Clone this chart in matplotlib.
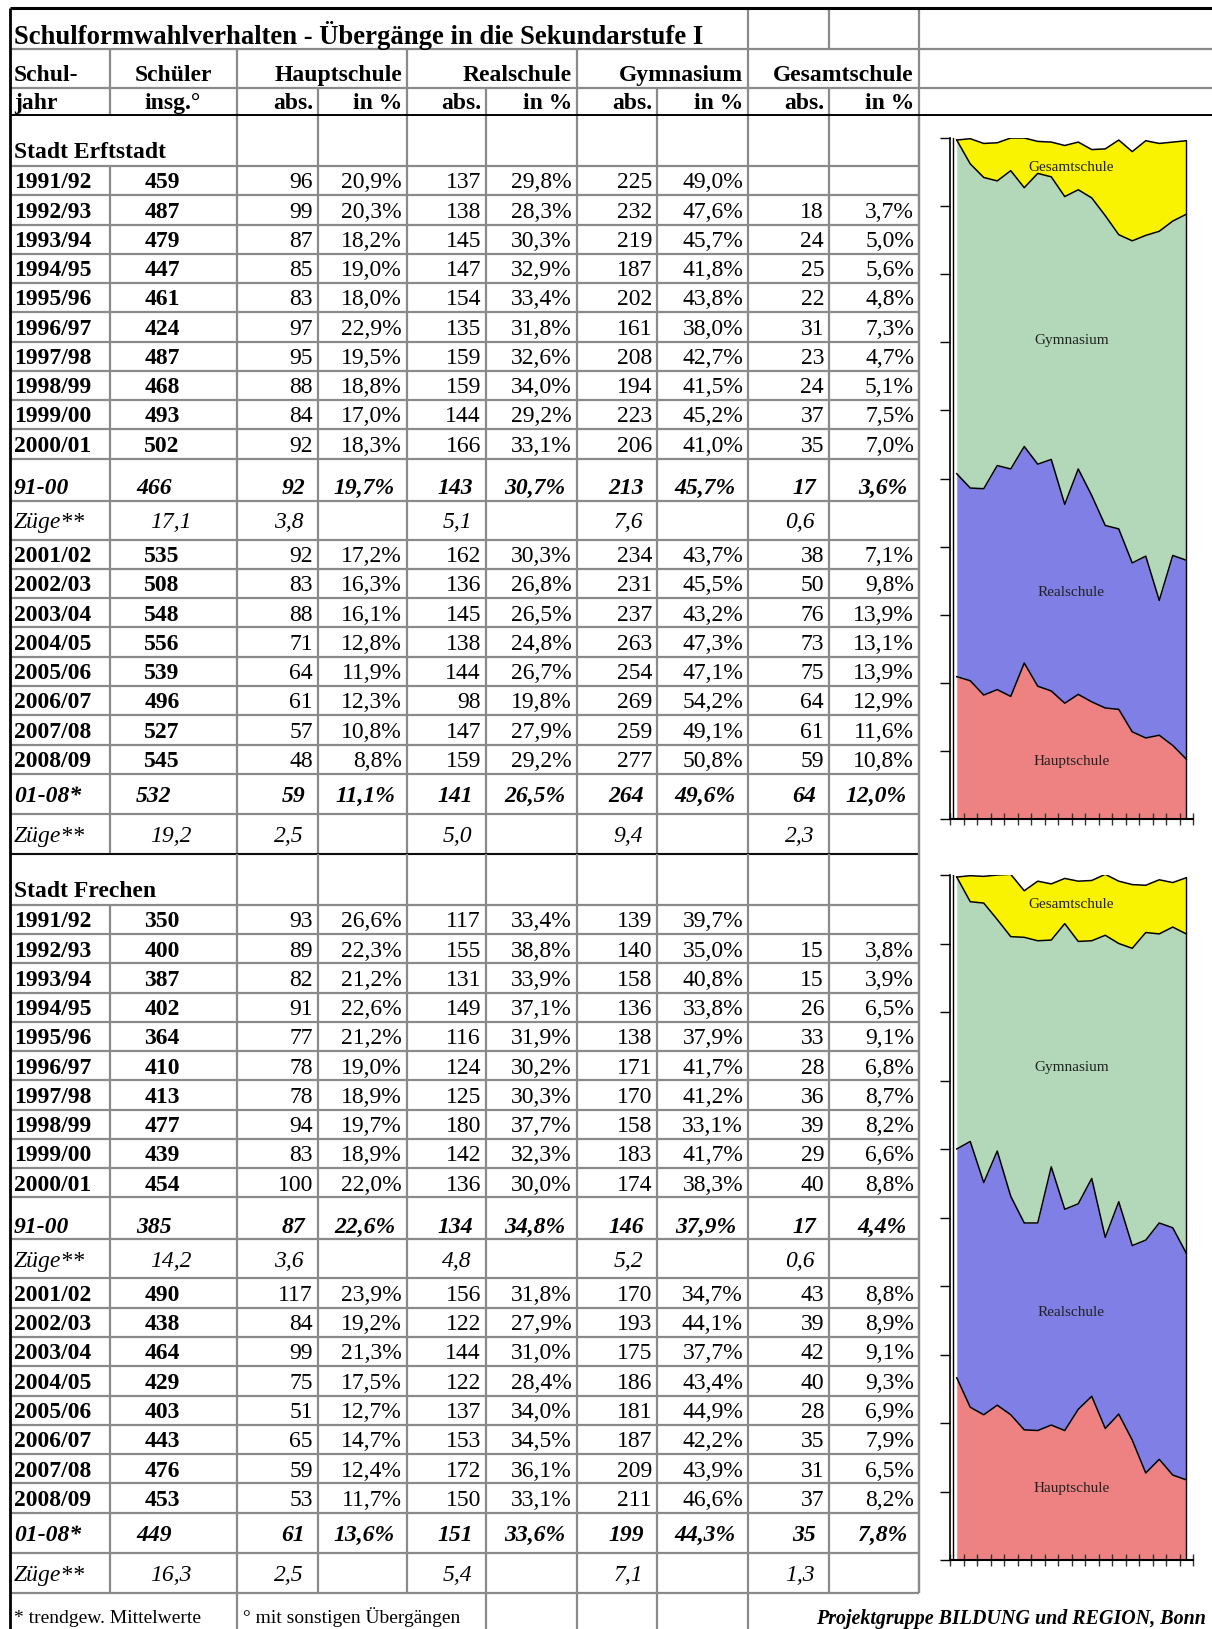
import numpy as np
import matplotlib.pyplot as plt

plt.rcParams['font.family'] = ['Liberation Serif', 'DejaVu Serif']

years_a = ["1991/92", "1992/93", "1993/94", "1994/95", "1995/96",
           "1996/97", "1997/98", "1998/99", "1999/00", "2000/01"]
years_b = ["2001/02", "2002/03", "2003/04", "2004/05",
           "2005/06", "2006/07", "2007/08", "2008/09"]

# Stadt Erftstadt
erf_schueler = [459, 487, 479, 447, 461, 424, 487, 468, 493, 502,
                535, 508, 548, 556, 539, 496, 527, 545]
erf_haupt_abs = [96, 99, 87, 85, 83, 97, 95, 88, 84, 92,
                 92, 83, 88, 71, 64, 61, 57, 48]
erf_haupt_pct = [20.9, 20.3, 18.2, 19.0, 18.0, 22.9, 19.5, 18.8, 17.0, 18.3,
                 17.2, 16.3, 16.1, 12.8, 11.9, 12.3, 10.8, 8.8]
erf_real_abs = [137, 138, 145, 147, 154, 135, 159, 159, 144, 166,
                162, 136, 145, 138, 144, 98, 147, 159]
erf_real_pct = [29.8, 28.3, 30.3, 32.9, 33.4, 31.8, 32.6, 34.0, 29.2, 33.1,
                30.3, 26.8, 26.5, 24.8, 26.7, 19.8, 27.9, 29.2]
erf_gym_abs = [225, 232, 219, 187, 202, 161, 208, 194, 223, 206,
               234, 231, 237, 263, 254, 269, 259, 277]
erf_gym_pct = [49.0, 47.6, 45.7, 41.8, 43.8, 38.0, 42.7, 41.5, 45.2, 41.0,
               43.7, 45.5, 43.2, 47.3, 47.1, 54.2, 49.1, 50.8]
erf_ges_abs = [None, 18, 24, 25, 22, 31, 23, 24, 37, 35,
               38, 50, 76, 73, 75, 64, 61, 59]
erf_ges_pct = [None, 3.7, 5.0, 5.6, 4.8, 7.3, 4.7, 5.1, 7.5, 7.0,
               7.1, 9.8, 13.9, 13.1, 13.9, 12.9, 11.6, 10.8]
erf_mean_a = [466, 92, 19.7, 143, 30.7, 213, 45.7, 17, 3.6]
erf_zuege_a = [17.1, 3.8, 5.1, 7.6, 0.6]
erf_mean_b = [532, 59, 11.1, 141, 26.5, 264, 49.6, 64, 12.0]
erf_zuege_b = [19.2, 2.5, 5.0, 9.4, 2.3]

# Stadt Frechen
fre_schueler = [350, 400, 387, 402, 364, 410, 413, 477, 439, 454,
                490, 438, 464, 429, 403, 443, 476, 453]
fre_haupt_abs = [93, 89, 82, 91, 77, 78, 78, 94, 83, 100,
                 117, 84, 99, 75, 51, 65, 59, 53]
fre_haupt_pct = [26.6, 22.3, 21.2, 22.6, 21.2, 19.0, 18.9, 19.7, 18.9, 22.0,
                 23.9, 19.2, 21.3, 17.5, 12.7, 14.7, 12.4, 11.7]
fre_real_abs = [117, 155, 131, 149, 116, 124, 125, 180, 142, 136,
                156, 122, 144, 122, 137, 153, 172, 150]
fre_real_pct = [33.4, 38.8, 33.9, 37.1, 31.9, 30.2, 30.3, 37.7, 32.3, 30.0,
                31.8, 27.9, 31.0, 28.4, 34.0, 34.5, 36.1, 33.1]
fre_gym_abs = [139, 140, 158, 136, 138, 171, 170, 158, 183, 174,
               170, 193, 175, 186, 181, 187, 209, 211]
fre_gym_pct = [39.7, 35.0, 40.8, 33.8, 37.9, 41.7, 41.2, 33.1, 41.7, 38.3,
               34.7, 44.1, 37.7, 43.4, 44.9, 42.2, 43.9, 46.6]
fre_ges_abs = [None, 15, 15, 26, 33, 28, 36, 39, 29, 40,
               43, 39, 42, 40, 28, 35, 31, 37]
fre_ges_pct = [None, 3.8, 3.9, 6.5, 9.1, 6.8, 8.7, 8.2, 6.6, 8.8,
               8.8, 8.9, 9.1, 9.3, 6.9, 7.9, 6.5, 8.2]
fre_mean_a = [385, 87, 22.6, 134, 34.8, 146, 37.9, 17, 4.4]
fre_zuege_a = [14.2, 3.6, 4.8, 5.2, 0.6]
fre_mean_b = [449, 61, 13.6, 151, 33.6, 199, 44.3, 35, 7.8]
fre_zuege_b = [16.3, 2.5, 5.4, 7.1, 1.3]

schools = ["Hauptschule", "Realschule", "Gymnasium", "Gesamtschule"]
colors = ["#EE8282", "#7F7FE6", "#B3D8B9", "#F9F200"]

W, H = 1212, 1629
fig = plt.figure(figsize=(W / 100, H / 100), dpi=100)
ax = fig.add_axes([0, 0, 1, 1])
ax.set_xlim(0, W)
ax.set_ylim(H, 0)
ax.axis('off')

GRAY = '#8a8a8a'
FS = 17
edges = [10, 110, 237, 318, 407, 486, 577, 657, 748, 829, 919]


def hline(y, x0, x1, color=GRAY, lw=1.6):
    ax.plot([x0, x1], [y, y], color=color, lw=lw, solid_capstyle='butt')


def vline(x, y0, y1, color=GRAY, lw=1.6):
    ax.plot([x, x], [y0, y1], color=color, lw=lw, solid_capstyle='butt')


def txt(x, yc, s, ha='left', size=FS, weight='normal', style='normal'):
    # yc = visual centre of digits/caps -> baseline below it
    ax.text(x, yc + 0.33 * size * 100 / 72, s, ha=ha, va='baseline',
            fontsize=size, fontweight=weight, fontstyle=style, color='black')


def pct(v):
    return f"{v:.1f}".replace('.', ',') + "%"


def dec(v):
    return f"{v:.1f}".replace('.', ',')


# ---- header ----
txt(14, 35, "Schulformwahlverhalten - Übergänge in die Sekundarstufe I", size=19.2, weight='bold')
txt(14, 73, "Schul-", weight='bold')
txt(173, 73, "Schüler", ha='center', weight='bold')
for s, e in zip(schools, [407, 577, 748, 919]):
    txt(e - 5, 73, s, ha='right', weight='bold')
txt(14, 101, "jahr", weight='bold')
txt(173, 101, "insg.°", ha='center', weight='bold')
for i in range(2, 10):
    txt(edges[i + 1] - 5, 101, "abs." if i % 2 == 0 else "in %", ha='right', weight='bold')

hline(49, 10, W)
hline(88, 10, W)
for x in [748, 829, 919]:
    vline(x, 8, 49)
for x in [110, 237, 407, 577, 748, 919]:
    vline(x, 49, 88)
for x in edges[1:]:
    vline(x, 88, 115)


def data_row(y0, h, year, vals, style, pos=0.5):
    yc = y0 + h / 2
    if style == 'data':
        txt(14, yc, year, weight='bold')
        txt(162, yc, str(vals[0]), ha='center', weight='bold')
        for k in range(4):
            a, p = vals[1 + 2 * k], vals[2 + 2 * k]
            if a is not None:
                txt(edges[2 + 2 * k + 1] - 5, yc, str(a), ha='right')
                txt(edges[2 + 2 * k + 2] - 5, yc, pct(p), ha='right')
    elif style == 'mean':
        yc = y0 + pos * h
        txt(14, yc, year, weight='bold', style='italic')
        txt(154, yc, str(vals[0]), ha='center', weight='bold', style='italic')
        for k in range(4):
            a, p = vals[1 + 2 * k], vals[2 + 2 * k]
            txt(edges[2 + 2 * k + 1] - 13, yc, str(a), ha='right', weight='bold', style='italic')
            txt(edges[2 + 2 * k + 2] - 12, yc, pct(p), ha='right', weight='bold', style='italic')
    else:
        txt(14, yc, year, style='italic')
        txt(171, yc, dec(vals[0]), ha='center', style='italic')
        for k in range(4):
            txt(edges[2 + 2 * k + 1] - 14, yc, dec(vals[1 + k]), ha='right', style='italic')
    hline(y0 + h, 10, 919)
    for x in edges[1:]:
        vline(x, y0, y0 + h)


def block(y, name, schueler, h_abs, h_pct, r_abs, r_pct, g_abs, g_pct, s_abs, s_pct,
          mean_a, zuege_a, mean_b, zuege_b):
    # city row
    txt(14, y + 0.69 * 51, name, weight='bold')
    for x in edges[2:]:
        vline(x, y, y + 51)
    hline(y + 51, 10, 919)
    y += 51
    years = years_a + years_b
    for i, yr in enumerate(years):
        vals = [schueler[i], h_abs[i], h_pct[i], r_abs[i], r_pct[i],
                g_abs[i], g_pct[i], s_abs[i], s_pct[i]]
        h = 29.25 if i < 10 else 29.3
        data_row(y, h, yr, vals, 'data')
        y += h
        if i == 9:
            data_row(y, 42, "91-00", mean_a, 'mean', pos=0.66)
            y += 42
            data_row(y, 39, "Züge**", zuege_a, 'zuege')
            y += 39
    data_row(y, 40, "01-08*", mean_b, 'mean', pos=0.5)
    y += 40
    data_row(y, 40, "Züge**", zuege_b, 'zuege')
    y += 40
    return y


y_end1 = block(115, "Stadt Erftstadt", erf_schueler, erf_haupt_abs, erf_haupt_pct,
               erf_real_abs, erf_real_pct, erf_gym_abs, erf_gym_pct, erf_ges_abs, erf_ges_pct,
               erf_mean_a, erf_zuege_a, erf_mean_b, erf_zuege_b)
hline(y_end1, 10, 919, color='black', lw=1.3)
y_end2 = block(y_end1, "Stadt Frechen", fre_schueler, fre_haupt_abs, fre_haupt_pct,
               fre_real_abs, fre_real_pct, fre_gym_abs, fre_gym_pct, fre_ges_abs, fre_ges_pct,
               fre_mean_a, fre_zuege_a, fre_mean_b, fre_zuege_b)

vline(919, 115, y_end2)
# footer
for x in [237, 486, 577, 657, 748]:
    vline(x, y_end2, H)
txt(14, 1617, "* trendgew. Mittelwerte", size=14)
txt(243, 1617, "° mit sonstigen Übergängen", size=14)
txt(1206, 1617, "Projektgruppe BILDUNG und REGION, Bonn", ha='right', size=14.4,
    weight='bold', style='italic')

# outer border
hline(115, 10, W, color='black', lw=1.4)
hline(8, 10, W, color='black', lw=2.2)
vline(10, 8, H, color='black', lw=2.0)


# ---- stacked area charts ----
def area_chart(top_px, bot_px, pcts):
    left_px, right_px = 950, 1193
    cax = fig.add_axes([left_px / W, 1 - bot_px / H, (right_px - left_px) / W,
                        (bot_px - top_px) / H])
    x = np.arange(len(pcts[0]))
    base = np.zeros(len(x))
    for p, c in zip(pcts, colors):
        vals = np.array([0.0 if v is None else v for v in p])
        cax.fill_between(x, base, base + vals, color=c, lw=0)
        base = base + vals
        cax.plot(x, base, color='black', lw=1.1)
    cax.plot([x[-1], x[-1]], [0, base[-1]], color='black', lw=1.0)
    cax.axvline(-0.25, color='black', lw=1.0)
    cax.set_xlim(-0.5, len(x) - 0.5)
    cax.set_ylim(0, 100)
    cax.set_xticks(np.arange(-0.5, len(x), 1))
    cax.set_yticks(np.arange(0, 101, 10))
    cax.set_xticklabels([])
    cax.set_yticklabels([])
    cax.tick_params(axis='x', direction='inout', length=9, width=1.0, color='#333333')
    cax.tick_params(axis='y', direction='out', length=7, width=1.0)
    cax.spines['top'].set_visible(False)
    cax.spines['right'].set_visible(False)
    cax.spines['left'].set_linewidth(1.2)
    cax.spines['bottom'].set_linewidth(1.5)
    cax.patch.set_alpha(0)
    return cax


cax1 = area_chart(138, 819, [erf_haupt_pct, erf_real_pct, erf_gym_pct, erf_ges_pct])
for s, yv in zip(schools, [8.5, 33.2, 70.3, 95.6]):
    cax1.text(8.5, yv, s, ha='center', va='center', fontsize=11, color='#222222')
cax2 = area_chart(875, 1560, [fre_haupt_pct, fre_real_pct, fre_gym_pct, fre_ges_pct])
for s, yv in zip(schools, [10.5, 36.1, 71.9, 95.7]):
    cax2.text(8.5, yv, s, ha='center', va='center', fontsize=11, color='#222222')

fig.savefig("out.png", dpi=100)
